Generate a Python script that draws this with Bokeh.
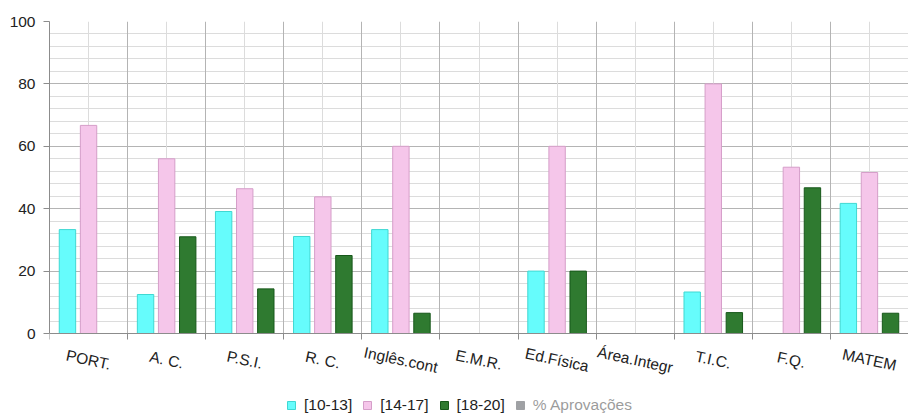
import numpy as np
from bokeh.plotting import figure
from bokeh.models import (ColumnDataSource, Range1d, FixedTicker, LabelSet,
                          Legend, LegendItem, LinearAxis, Grid,
                          CustomJSTickFormatter)
from bokeh.core.properties import value
from bokeh.embed import file_html
from bokeh.resources import INLINE

# ---------------- data ----------------
categories = ["PORT.", "A. C.", "P.S.I.", "R. C.", "Inglês.cont", "E.M.R.",
              "Ed.Física", "Área.Integr", "T.I.C.", "F.Q.", "MATEM"]
s_10_13 = [33.3, 12.5, 39.1, 31.1, 33.3, 0, 20.0, 0, 13.3, 0, 41.7]
s_14_17 = [66.7, 56.0, 46.4, 43.8, 60.0, 0, 60.0, 0, 80.0, 53.3, 51.6]
s_18_20 = [0, 31.0, 14.3, 25.0, 6.5, 0, 20.0, 0, 6.7, 46.7, 6.5]
# "% Aprovações" is switched off in the chart: its values are not shown
s_aprov = [np.nan]
series_labels = ["[10-13]", "[14-17]", "[18-20]", "% Aprovações"]
y_major_ticks = [0, 20, 40, 60, 80, 100]
y_minor_step = 4

# ---------------- styles ----------------
FONT = "Liberation Sans"
FS = "15.5px"
fills = ["#66fcfc", "#f5c6ea", "#2f7a30"]
lines = ["#3fd8d2", "#d59ec9", "#17581a"]
offsets = [-0.27, 0.0, 0.27]
bar_w = 0.21
Y_TOP = 100
Y_BOTTOM = -25.64          # room under the zero line for labels + legend
LABEL_Y = -8.4             # data units below zero for the category names

n = len(categories)
centers = np.arange(n) + 0.5
boundaries = list(range(0, n + 1))
y_minor = list(range(0, Y_TOP + 1, y_minor_step))

p = figure(width=908, height=413, output_backend="svg", toolbar_location=None,
           x_range=Range1d(0, n), y_range=Range1d(Y_BOTTOM, Y_TOP),
           x_axis_type=None,
           min_border_left=49, min_border_right=0, min_border_top=21,
           min_border_bottom=0, outline_line_color=None)

# ---------------- grids ----------------
p.ygrid.ticker = FixedTicker(ticks=y_major_ticks, minor_ticks=y_minor)
p.ygrid.grid_line_color = "#b4b4b4"
p.ygrid.minor_grid_line_color = "#dcdcdc"

xgrid = Grid(dimension=0,
             ticker=FixedTicker(ticks=list(centers), minor_ticks=boundaries),
             grid_line_color="#dcdcdc", minor_grid_line_color="#b4b4b4",
             cross_bounds=(0, Y_TOP))
p.add_layout(xgrid)

# ---------------- bars ----------------
renderers = []
for vals, fc, lc, off in zip([s_10_13, s_14_17, s_18_20], fills, lines, offsets):
    v = np.array(vals, dtype=float)
    mask = v > 0
    src = ColumnDataSource(dict(x=centers[mask] + off, top=v[mask]))
    r = p.vbar(x="x", top="top", width=bar_w, bottom=0, source=src,
               fill_color=fc, line_color=lc, line_width=1)
    renderers.append(r)

# hidden series (% Aprovações) - only its (greyed) legend entry is shown
r_hidden = p.vbar(x=[np.nan] * len(s_aprov), top=s_aprov, width=bar_w,
                  fill_color="#2c3035", line_color="#2c3035", visible=False)

# ---------------- axes ----------------
xaxis = LinearAxis(ticker=FixedTicker(ticks=boundaries), fixed_location=0,
                   formatter=CustomJSTickFormatter(code="return ''"),
                   major_tick_out=6, major_tick_in=0,
                   major_tick_line_color="#8c8c8c",
                   minor_tick_line_color=None,
                   axis_line_color="#8c8c8c")
p.add_layout(xaxis, "below")

p.yaxis.ticker = FixedTicker(ticks=y_major_ticks)
p.yaxis.bounds = (0, Y_TOP)
p.yaxis.major_tick_out = 6
p.yaxis.major_tick_in = 0
p.yaxis.minor_tick_line_color = None
p.yaxis.major_tick_line_color = "#8c8c8c"
p.yaxis.axis_line_color = "#8c8c8c"
p.yaxis.major_label_standoff = 8
p.yaxis.major_label_text_font = FONT
p.yaxis.major_label_text_font_size = FS
p.yaxis.major_label_text_color = "#222222"

# category labels (rotated, centred under each group)
lab_src = ColumnDataSource(dict(x=list(centers), y=[LABEL_Y] * n,
                                text=categories))
labels = LabelSet(x="x", y="y", text="text", source=lab_src,
                  angle=-0.21, text_align="center", text_baseline="middle",
                  text_font=value(FONT), text_font_size=FS,
                  text_color="#222222")
p.add_layout(labels)

# ---------------- legend ----------------
items = [LegendItem(label=lbl, renderers=[r])
         for lbl, r in zip(series_labels, renderers + [r_hidden])]
legend = Legend(items=items, location=(237, -1), orientation="horizontal",
                glyph_width=10, glyph_height=10, label_standoff=8, spacing=10,
                padding=0, margin=0, border_line_color=None,
                background_fill_alpha=0, label_text_font=FONT,
                label_text_font_size=FS, label_text_color="#222222",
                label_height=12, click_policy="hide",
                inactive_fill_color="white", inactive_fill_alpha=0.55)
p.add_layout(legend, "center")

open("out.html", "w").write(file_html(p, INLINE))
